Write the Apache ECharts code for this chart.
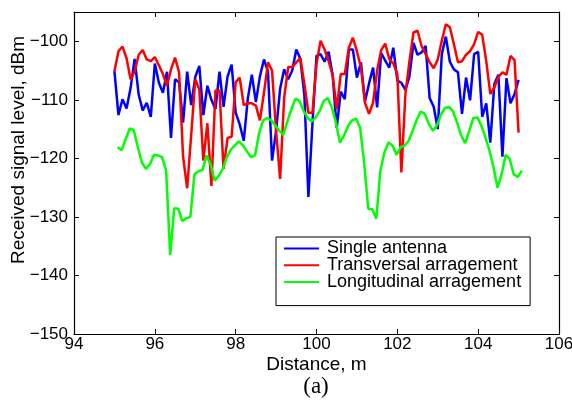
<!DOCTYPE html>
<html>
<head>
<meta charset="utf-8">
<script src="https://cdn.jsdelivr.net/npm/echarts@6/dist/echarts.min.js"></script>
<style>html,body{margin:0;padding:0;background:#fff;}#c{width:572px;height:408px;}</style>
</head>
<body>
<div id="c"></div>
<script>
// Distance grid (m): 0.1 m steps from 95 to 105; the green trace is sampled slightly later
const distance = Array.from({length: 101}, (_, i) => +(95 + i * 0.1).toFixed(2));
const distanceLong = Array.from({length: 101}, (_, i) => +(95.08 + i * 0.1).toFixed(2));

const seriesNames = ['Single antenna', 'Transversal arragement', 'Longitudinal arragement'];

const singleAntenna = [
  -105.1,-112.6,-109.9,-111.5,-108.0,-103.0,-109.1,-111.8,-110.5,-112.9,
  -103.8,-107.1,-108.8,-105.2,-116.5,-106.5,-107.0,-113.9,-105.2,-110.9,
  -106.1,-104.2,-112.6,-107.6,-110.0,-111.6,-105.2,-111.2,-106.0,-104.0,
  -112.2,-114.2,-117.0,-109.8,-105.7,-110.4,-106.0,-103.1,-105.2,-120.4,
  -115.3,-108.1,-104.8,-106.5,-105.0,-101.4,-103.0,-109.2,-126.6,-114.0,
  -102.5,-102.2,-103.5,-101.8,-105.8,-114.8,-108.6,-109.9,-101.4,-101.4,
  -106.2,-103.6,-110.3,-107.2,-104.5,-111.3,-102.0,-103.3,-104.5,-101.1,
  -106.7,-107.1,-108.3,-106.0,-100.3,-102.3,-101.9,-100.8,-109.7,-111.2,
  -115.0,-102.2,-99.2,-103.5,-104.8,-105.3,-112.4,-106.2,-110.1,-102.2,
  -101.8,-112.9,-110.6,-117.3,-107.3,-105.7,-119.7,-106.3,-110.6,-109.0,
  -106.6
];

const transversal = [
  -105.1,-101.7,-100.9,-102.9,-106.5,-105.2,-102.3,-101.5,-103.1,-103.4,
  -102.7,-104.1,-105.6,-107.6,-104.8,-102.8,-105.3,-119.8,-125.1,-116.0,
  -106.5,-108.2,-120.4,-114.0,-124.7,-108.4,-108.4,-121.8,-116.5,-116.3,
  -107.0,-106.2,-110.9,-110.6,-110.6,-111.0,-113.5,-108.8,-103.6,-105.0,
  -115.3,-123.5,-109.6,-104.4,-104.4,-103.6,-102.9,-107.3,-112.2,-112.2,
  -103.9,-99.9,-101.4,-103.4,-105.8,-111.6,-105.6,-105.6,-101.1,-99.4,
  -101.7,-104.5,-110.5,-112.4,-110.5,-105.0,-101.5,-100.4,-103.0,-103.8,
  -105.6,-122.4,-109.0,-103.4,-98.5,-98.2,-100.8,-102.2,-103.6,-104.6,
  -103.1,-99.9,-97.1,-97.6,-100.5,-103.6,-103.4,-102.3,-101.7,-100.5,
  -98.4,-98.9,-103.4,-109.0,-107.9,-106.1,-105.3,-105.7,-102.5,-103.2,
  -115.6
];

const longitudinal = [
  -118.1,-118.6,-116.7,-114.9,-115.2,-118.1,-120.7,-121.8,-121.0,-119.4,
  -119.5,-119.8,-122.1,-136.5,-128.5,-128.6,-130.7,-130.2,-130.0,-122.7,
  -122.2,-122.0,-119.5,-121.0,-123.8,-123.0,-121.8,-119.8,-118.5,-117.8,
  -117.1,-117.8,-118.8,-119.8,-119.5,-115.7,-113.5,-113.1,-113.5,-114.4,
  -115.3,-116.0,-113.7,-111.6,-109.8,-110.2,-111.9,-113.1,-113.7,-113.0,
  -111.9,-110.2,-109.7,-111.3,-113.9,-117.3,-116.1,-114.5,-113.5,-113.2,
  -114.8,-120.8,-128.6,-128.7,-130.3,-122.1,-119.0,-117.3,-117.8,-119.4,
  -118.1,-117.8,-117.0,-115.3,-113.4,-112.0,-112.4,-114.1,-115.3,-114.4,
  -112.5,-111.4,-111.2,-112.0,-113.9,-116.1,-117.4,-115.3,-113.1,-113.0,
  -114.4,-116.4,-118.7,-121.5,-125.0,-122.7,-119.4,-120.1,-122.7,-123.2,
  -122.1
];

const xTicks = {min: 94, max: 106, interval: 2};
const yTicks = {min: -150, max: -95, interval: 10};

const fontSans = '"Liberation Sans", Arial, Helvetica, sans-serif';
const minus = v => String(v).replace('-', '\u2212');

const chart = echarts.init(document.getElementById('c'), null, {renderer: 'canvas'});

const pairs = (xs, ys) => ys.map((y, i) => [xs[i], y]);

const lineSeries = (name, xs, ys, color) => ({
  name: name,
  type: 'line',
  data: pairs(xs, ys),
  symbol: 'none',
  showSymbol: false,
  smooth: false,
  lineStyle: {color: color, width: 2.5},
  itemStyle: {color: color},
  emphasis: {disabled: true},
  animation: false,
  z: 3
});

const axisCommon = {
  axisLine: {show: true, lineStyle: {color: '#000', width: 1.2}},
  axisTick: {show: true, inside: true, length: 5, lineStyle: {color: '#000', width: 1}},
  splitLine: {show: false}
};

chart.setOption({
  animation: false,
  backgroundColor: '#fff',
  grid: {left: 74, right: 13, top: 12, bottom: 74, containLabel: false, outerBoundsMode: 'none'},
  xAxis: [
    Object.assign({
      type: 'value', position: 'bottom',
      min: xTicks.min, max: xTicks.max, interval: xTicks.interval,
      name: 'Distance, m', nameLocation: 'middle', nameGap: 21, nameMoveOverlap: false,
      nameTextStyle: {fontFamily: fontSans, fontSize: 19, color: '#000'},
      axisLabel: {fontFamily: fontSans, fontSize: 17, color: '#000', margin: 2}
    }, axisCommon),
    Object.assign({
      type: 'value', position: 'top',
      min: xTicks.min, max: xTicks.max, interval: xTicks.interval,
      axisLabel: {show: false}
    }, axisCommon)
  ],
  yAxis: [
    Object.assign({
      type: 'value', position: 'left',
      min: yTicks.min, max: yTicks.max, interval: yTicks.interval,
      name: 'Received signal level, dBm', nameLocation: 'middle', nameGap: 46, nameMoveOverlap: false,
      nameTextStyle: {fontFamily: fontSans, fontSize: 19, color: '#000', padding: [0, 0, 0, 46]},
      axisLabel: {fontFamily: fontSans, fontSize: 17, color: '#000', margin: 6,
        showMaxLabel: false,
        formatter: v => (v % 10 === 0 ? minus(v) : '')}
    }, axisCommon),
    Object.assign({
      type: 'value', position: 'right',
      min: yTicks.min, max: yTicks.max, interval: yTicks.interval,
      axisLabel: {show: false}
    }, axisCommon)
  ],
  legend: {
    show: true,
    orient: 'vertical',
    left: 276, top: 237,
    padding: [2.5, 9, 14.5, 7],
    itemWidth: 35, itemHeight: 16, itemGap: -1.2,
    backgroundColor: '#fff',
    borderColor: '#000', borderWidth: 1,
    selectedMode: false,
    itemStyle: {opacity: 0},
    textStyle: {fontFamily: fontSans, fontSize: 18, color: '#000', lineHeight: 16, padding: [0, 0, 0, 3]},
    data: seriesNames
  },
  graphic: [{
    type: 'text', x: 316, y: 375,
    style: {text: '(a)', align: 'center', verticalAlign: 'top',
      fontFamily: '"Liberation Serif", "Times New Roman", serif', fontSize: 23, fill: '#000'}
  }],
  series: [
    lineSeries(seriesNames[0], distance, singleAntenna, '#0000ff'),
    lineSeries(seriesNames[1], distance, transversal, '#ff0000'),
    lineSeries(seriesNames[2], distanceLong, longitudinal, '#00ff00')
  ]
});
</script>
</body>
</html>
